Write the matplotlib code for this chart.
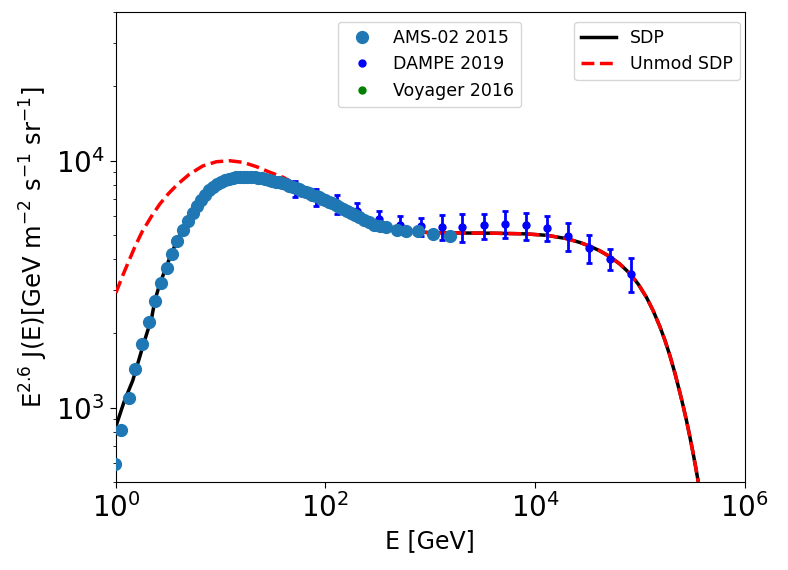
import matplotlib
matplotlib.use("Agg")
import matplotlib.pyplot as plt
from matplotlib.ticker import NullLocator, FixedLocator

# ---------------- data ----------------
ams_E = [0.98, 1.11, 1.33, 1.54, 1.78, 2.06, 2.37, 2.69, 3.05, 3.45, 3.84, 4.33,
         4.83, 5.40, 5.9, 6.5, 7.1, 7.8, 8.5, 9.3, 10.1, 11.0, 12.0, 13.0, 14.1,
         15.3, 16.6, 18.0, 19.5, 21.1, 22.8, 24.7, 26.7, 28.8, 31.1, 33.5, 36.1,
         38.9, 41.9, 45.1, 48.5, 52.2, 56.1, 60.3, 64.8, 69.7, 74.9, 80.5, 86.5,
         93.0, 100, 108, 116, 125, 135, 147, 160, 175, 192, 211, 233, 259, 291,
         330, 379, 480, 590, 760, 1070, 1530]
ams_flux = [590, 815, 1100, 1432, 1813, 2228, 2700, 3200, 3690, 4200, 4730, 5225,
            5690, 6150, 6550, 6950, 7280, 7580, 7830, 8040, 8210, 8350, 8460, 8530,
            8580, 8610, 8620, 8620, 8600, 8570, 8530, 8480, 8420, 8360, 8300, 8240,
            8175, 8100, 8020, 7930, 7840, 7750, 7650, 7560, 7460, 7370, 7280, 7190,
            7100, 7020, 6930, 6830, 6720, 6610, 6500, 6380, 6260, 6140, 6030, 5900,
            5770, 5640, 5520, 5440, 5370, 5230, 5200, 5200, 5030, 4950]

dampe_E = [51, 80.4, 127.6, 202, 321, 513, 813, 1290, 2030, 3245, 5150, 8110,
           12900, 20400, 32600, 51700, 81500]
dampe_flux = [7690, 7110, 6680, 6280, 5820, 5520, 5420, 5385, 5385, 5470, 5560,
              5470, 5360, 4955, 4430, 4015, 3490]
dampe_err = [590, 545, 580, 485, 465, 480, 470, 620, 680, 645, 700, 690, 630,
             625, 580, 390, 540]

voyager_E = []
voyager_flux = []

sdp_E = [1.0, 1.2, 1.45, 1.8, 2.2, 2.36, 2.63, 3.2, 3.8, 4.5, 5.4, 6.5, 8.0, 10.0,
         13.0, 17.0, 22.0, 30.0, 40.0, 60.0, 100, 150, 250, 400, 700, 1000, 2000,
         4000, 8000, 13000, 20000, 26750, 33340, 41500, 51760, 64400, 80300, 96400,
         115900, 134000, 155200, 173400, 193300, 216000, 240800, 259000, 279000,
         300000, 322700, 342000, 359800, 400000]
sdp_flux = [840, 1060, 1290, 1760, 2320, 2725, 3180, 3950, 4720, 5400, 6150, 6950,
            7650, 8200, 8530, 8630, 8550, 8330, 8060, 7560, 6930, 6350, 5700, 5330,
            5180, 5110, 5100, 5090, 5060, 4990, 4840, 4670, 4510, 4320, 4090, 3820,
            3497, 3169, 2795, 2471, 2133, 1877, 1629, 1382, 1154, 1017, 885, 764,
            653, 571, 505, 379]

unmod_E = [1.0, 1.175, 1.318, 1.514, 1.778, 2.188, 2.63, 3.162, 3.89, 5.012, 6.761,
           9.12, 12.2, 16.4, 22.0, 29.5, 40.0, 55.0, 80.0, 100, 150, 250, 400, 700,
           1000, 2000, 4000, 8000, 13000, 20000, 26750, 33340, 41500, 51760, 64400,
           80300, 96400, 115900, 134000, 155200, 173400, 193300, 216000, 240800,
           259000, 279000, 300000, 322700, 342000, 359800, 400000]
unmod_flux = [2917, 3467, 3890, 4467, 5152, 5957, 6683, 7345, 8035, 8810, 9528,
              9908, 10000, 9850, 9460, 8980, 8550, 7900, 7250, 6930, 6350, 5700,
              5330, 5180, 5110, 5100, 5090, 5060, 4990, 4840, 4670, 4510, 4320,
              4090, 3820, 3497, 3169, 2795, 2471, 2133, 1877, 1629, 1382, 1154, 1017,
              885, 764, 653, 571, 505, 379]

# ---------------- figure ----------------
fig = plt.figure(figsize=(7.88, 5.70), dpi=100)
ax = fig.add_axes([0.147, 0.154, 0.798, 0.825])

l_sdp, = ax.plot(sdp_E, sdp_flux, color="black", lw=2.5, label="SDP", zorder=2)
l_unmod, = ax.plot(unmod_E, unmod_flux, color="red", lw=2.5, ls="--",
                   label="Unmod SDP", zorder=3)

p_ams, = ax.plot(ams_E, ams_flux, "o", color="#1f77b4", ms=8.5, ls="none",
                 label="AMS-02 2015", zorder=5)
eb = ax.errorbar(dampe_E, dampe_flux, yerr=dampe_err, fmt="o", color="blue",
                 ms=5, elinewidth=2, capsize=2, capthick=2, zorder=4)
p_dampe, = ax.plot([], [], "o", color="blue", ms=5, ls="none", label="DAMPE 2019")
p_voy, = ax.plot(voyager_E, voyager_flux, "o", color="green", ms=5, ls="none",
                 label="Voyager 2016")

ax.set_xscale("log")
ax.set_yscale("log")
ax.set_xlim(1, 1e6)
ax.set_ylim(500, 4e4)
ax.xaxis.set_major_locator(FixedLocator([1, 1e2, 1e4, 1e6]))
ax.xaxis.set_minor_locator(NullLocator())

ax.tick_params(axis="both", which="major", labelsize=20, length=4.5)
ax.tick_params(axis="both", which="minor", length=2.5)
ax.set_xlabel("E [GeV]", fontsize=17)
ax.set_ylabel(r"E$^{2.6}$ J(E)[GeV m$^{-2}$ s$^{-1}$ sr$^{-1}$]", fontsize=17.5)

leg1 = ax.legend(handles=[p_ams, p_dampe, p_voy], loc="upper left",
                 bbox_to_anchor=(0.353, 0.979), borderaxespad=0, fontsize=12.5)
ax.add_artist(leg1)
ax.legend(handles=[l_sdp, l_unmod], loc="upper right",
          bbox_to_anchor=(0.992, 0.979), borderaxespad=0, fontsize=12.5)

fig.savefig("out.png", dpi=100)
